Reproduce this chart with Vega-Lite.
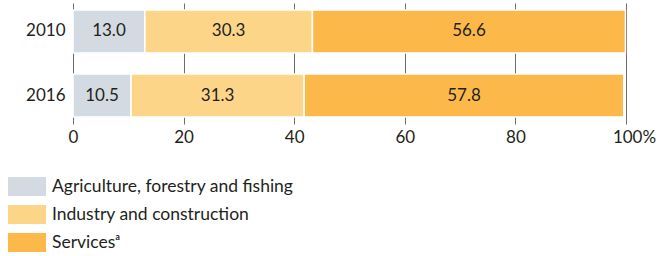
{
  "$schema": "https://vega.github.io/schema/vega-lite/v6.json",
  "width": 553,
  "height": 121,
  "autosize": {"type": "none"},
  "padding": {"left": 73, "top": 3, "right": 36, "bottom": 132},
  "background": "white",
  "config": {
    "view": {"stroke": null},
    "font": "Lato",
    "text": {"font": "Lato"}
  },
  "data": {
    "values": [
      {"year": "2010", "sector": "Agriculture", "value": 13.0},
      {"year": "2010", "sector": "Industry", "value": 30.3},
      {"year": "2010", "sector": "Services", "value": 56.6},
      {"year": "2016", "sector": "Agriculture", "value": 10.5},
      {"year": "2016", "sector": "Industry", "value": 31.3},
      {"year": "2016", "sector": "Services", "value": 57.8}
    ]
  },
  "encoding": {
    "y": {
      "field": "year",
      "type": "nominal",
      "scale": {"paddingInner": 0.33, "paddingOuter": 0.11},
      "axis": {
        "title": null,
        "domain": false,
        "ticks": false,
        "labelPadding": 8,
        "labelFontSize": 17,
        "labelColor": "#231f20",
        "labelFont": "Lato"
      }
    }
  },
  "layer": [
    {
      "mark": {"type": "bar", "stroke": "white", "strokeWidth": 1.5},
      "encoding": {
        "x": {
          "field": "value",
          "type": "quantitative",
          "stack": "zero",
          "scale": {"domain": [0, 100], "nice": false},
          "axis": {
            "title": null,
            "values": [0, 20, 40, 60, 80, 100],
            "labelExpr": "datum.value == 100 ? '100%' : datum.label",
            "labelOffset": {"expr": "datum.value == 100 ? 8 : 0"},
            "labelFlush": false,
            "domain": false,
            "ticks": false,
            "grid": true,
            "gridColor": "#6d6d6d",
            "gridWidth": 1,
            "gridOpacity": 1,
            "labelPadding": 5,
            "labelFontSize": 17,
            "labelColor": "#231f20",
            "labelFont": "Lato"
          }
        },
        "color": {
          "field": "sector",
          "type": "nominal",
          "scale": {
            "domain": ["Agriculture", "Industry", "Services"],
            "range": ["#d3dae1", "#fdd589", "#fcb949"]
          },
          "legend": {
            "orient": "none",
            "legendX": -65,
            "legendY": 174,
            "title": null,
            "padding": 0,
            "symbolType": "M-1,-1H3V1H-1Z",
            "symbolSize": 361,
            "symbolStrokeWidth": 0,
            "symbolOpacity": 1,
            "rowPadding": 9,
            "labelOffset": 25,
            "labelLimit": 0,
            "labelFontSize": 17.5,
            "labelColor": "#231f20",
            "labelFont": "Lato",
            "labelExpr": "datum.label == 'Agriculture' ? 'Agriculture, forestry and fishing' : datum.label == 'Industry' ? 'Industry and construction' : 'Servicesᵃ'"
          }
        },
        "order": {"field": "sector", "sort": "ascending"}
      }
    },
    {
      "mark": {"type": "text", "fontSize": 17, "color": "#231f20", "font": "Lato"},
      "encoding": {
        "x": {"field": "value", "type": "quantitative", "stack": "zero", "bandPosition": 0.5},
        "text": {"field": "value", "type": "quantitative", "format": ".1f"},
        "order": {"field": "sector", "sort": "ascending"},
        "detail": {"field": "sector"}
      }
    }
  ]
}
